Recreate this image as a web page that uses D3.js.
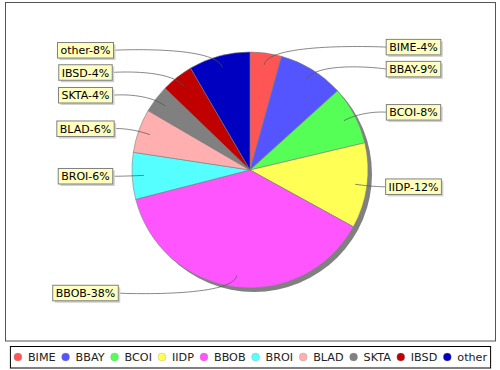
<!DOCTYPE html>
<html>
<head>
<meta charset="utf-8">
<script src="https://cdn.jsdelivr.net/npm/d3@7"></script>
<style>
body{margin:0;background:#fff;}
text{font-family:"DejaVu Sans",sans-serif;}
</style>
</head>
<body>
<div class="box"></div>
<script>
const names=['BIME','BBAY','BCOI','IIDP','BBOB','BROI','BLAD','SKTA','IBSD','other'];
const values=[4.3,9.0,8.0,11.7,38.0,6.4,6.0,3.8,4.4,8.4];
const colors=['#FF5555','#5555FF','#55FF55','#FFFF55','#FF55FF','#55FFFF','#FFAFAF','#808080','#C00000','#0000C0'];

const W=500,H=370;
const cx=250,cy=170,R=118;
const svg=d3.select('.box').append('svg').attr('width',W).attr('height',H).style('display','block');

// plot border
svg.append('rect').attr('x',5.5).attr('y',2.5).attr('width',490).attr('height',338.5)
  .attr('fill','white').attr('stroke','#555').attr('stroke-width',1);

const total=d3.sum(values);
const pct=d3.format('.0%');
const data=names.map((n,i)=>({name:n,value:values[i],color:colors[i]}));
const pie=d3.pie().value(d=>d.value).sort(null);
const arcs=pie(data);
const arc=d3.arc().innerRadius(0).outerRadius(R);

const g=svg.append('g').attr('transform',`translate(${cx},${cy})`);
// shadow
g.append('circle').attr('cx',4).attr('cy',4).attr('r',R).attr('fill','#808080');
g.selectAll('path.slice').data(arcs).enter().append('path')
  .attr('class','slice')
  .attr('d',arc)
  .attr('fill',d=>d.data.color)
  .attr('stroke','#808080').attr('stroke-width',0.6);

// labels
const labR=124, gap=22, linkR=R*0.9, elbowR=R*1.1;
const recs=arcs.map(a=>{
  const mid=(a.startAngle+a.endAngle)/2;
  return {a:a,mid:mid,right:Math.sin(mid)>=0,y:cy-labR*Math.cos(mid),
    text:a.data.name+'-'+pct(a.data.value/total)};
});
['right','left'].forEach(side=>{
  const list=recs.filter(r=>side==='right'?r.right:!r.right).sort((p,q)=>p.y-q.y);
  for(let i=1;i<list.length;i++) if(list[i].y<list[i-1].y+gap) list[i].y=list[i-1].y+gap;
});

const lg=svg.append('g');
recs.forEach(r=>{
  const t=lg.append('text').attr('font-size',11).text(r.text);
  const tw=t.node().getComputedTextLength();
  const bw=tw+6,bh=15.5;
  const bx=(r.right?413.5:85.5)-bw/2;
  const by=r.y-bh/2;
  const edgeX=r.right?bx:bx+bw;
  const linkX=cx+linkR*Math.sin(r.mid), linkY=cy-linkR*Math.cos(r.mid);
  const elX=cx+elbowR*Math.sin(r.mid), elY=cy-elbowR*Math.cos(r.mid);
  const ancX=r.right?cx+elbowR+10:cx-elbowR-10;
  const p=d3.path();
  p.moveTo(edgeX,r.y);
  p.bezierCurveTo(ancX,r.y,elX,elY,linkX,linkY);
  lg.insert('path','text').attr('d',p.toString()).attr('fill','none')
    .attr('stroke','#555').attr('stroke-width',0.7);
  lg.insert('rect','text').attr('x',bx+2).attr('y',by+2).attr('width',bw).attr('height',bh)
    .attr('fill','#d0d0d0');
  lg.insert('rect','text').attr('x',bx).attr('y',by).attr('width',bw).attr('height',bh)
    .attr('fill','#FFFFC0').attr('stroke','#808080').attr('stroke-width',1);
  t.attr('x',bx+3).attr('y',r.y+4);
});

// legend
const leg=svg.append('g');
let xPos=0;
names.forEach((n,i)=>{
  const it=leg.append('g');
  it.append('circle').attr('cx',xPos+4).attr('cy',0).attr('r',4)
    .attr('fill',colors[i]).attr('stroke','#999').attr('stroke-width',0.3);
  const t=it.append('text').attr('x',xPos+14).attr('y',4).attr('font-size',11.2).attr('fill','#222').text(n);
  xPos+=14+t.node().getComputedTextLength()+6;
});
const legW=xPos-6;
const legX=250.5-legW/2;
leg.attr('transform',`translate(${legX},357)`);
svg.insert('rect','g').attr('x',legX-3.5).attr('y',346.5).attr('width',legW+7).attr('height',21.5)
  .attr('fill','white').attr('stroke','black').attr('stroke-width',1);
</script>
</body>
</html>
